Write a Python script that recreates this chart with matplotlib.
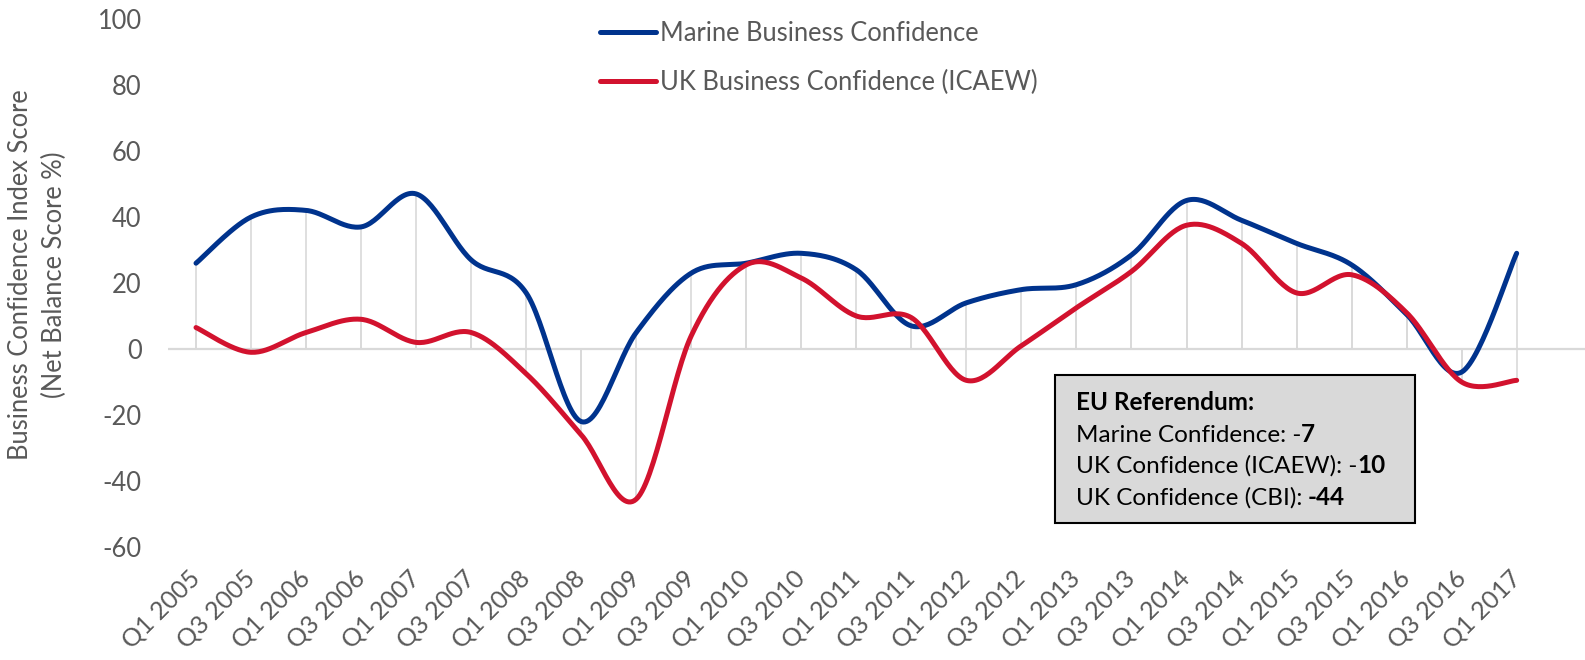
import numpy as np
import matplotlib
matplotlib.use("Agg")
import matplotlib.pyplot as plt
from matplotlib.patches import Rectangle

plt.rcParams['font.family'] = ['Lato', 'DejaVu Sans']

# data
quarters = ['Q1 2005', 'Q3 2005', 'Q1 2006', 'Q3 2006', 'Q1 2007', 'Q3 2007',
            'Q1 2008', 'Q3 2008', 'Q1 2009', 'Q3 2009', 'Q1 2010', 'Q3 2010',
            'Q1 2011', 'Q3 2011', 'Q1 2012', 'Q3 2012', 'Q1 2013', 'Q3 2013',
            'Q1 2014', 'Q3 2014', 'Q1 2015', 'Q3 2015', 'Q1 2016', 'Q3 2016',
            'Q1 2017']
marine = [26, 40, 42, 37, 47, 27, 17, -22, 5, 23, 26, 29, 24, 7, 14, 18,
          19.5, 28.5, 45, 39, 32, 25.5, 10.5, -7, 29]
icaew = [6.5, -1, 5, 9, 2, 5, -7.5, -26, -45.5, 4, 25.5, 21.5, 10, 9.5,
         -9.5, 1, 12.5, 23.5, 37.5, 32, 17, 22.5, 11, -10, -9.5]
yticks = list(range(-60, 101, 20))

W, H = 1585, 660
GREY = '#595959'
BLUE = '#00338D'
RED = '#D2122E'
FS = 18.4


def fx(x):
    return x / W


def fy(y):
    return 1 - y / H


def smooth(xs, ys, n=30):
    # Catmull-Rom style bezier, roughly what Excel's "smoothed line" does
    p = np.column_stack([xs, ys]).astype(float)
    out = []
    for i in range(len(p) - 1):
        p0 = p[i - 1] if i > 0 else p[i]
        p1, p2 = p[i], p[i + 1]
        p3 = p[i + 2] if i + 2 < len(p) else p[i + 1]
        b1 = p1 + (p2 - p0) / 6
        b2 = p2 - (p3 - p1) / 6
        t = np.linspace(0, 1, n)[:, None]
        seg = ((1 - t) ** 3) * p1 + 3 * ((1 - t) ** 2) * t * b1 + 3 * (1 - t) * t ** 2 * b2 + t ** 3 * p2
        out.append(seg if i == 0 else seg[1:])
    out = np.vstack(out)
    return out[:, 0], out[:, 1]


fig = plt.figure(figsize=(W / 100, H / 100), dpi=100)
ax = fig.add_axes([fx(168), fy(547), fx(W - 168), fy(19) - fy(547)])

x = np.arange(len(quarters))
ax.vlines(x, 0, marine, color='#D9D9D9', lw=1.2, zorder=1)
ax.vlines(x, 0, icaew, color='#D9D9D9', lw=1.2, zorder=1)
ax.axhline(0, color='#D9D9D9', lw=1.6, zorder=1)

sx, sy = smooth(x, marine)
ax.plot(sx, sy, color=BLUE, lw=3.6, solid_capstyle='round', label='Marine Business Confidence', zorder=3)
sx, sy = smooth(x, icaew)
ax.plot(sx, sy, color=RED, lw=3.6, solid_capstyle='round', label='UK Business Confidence (ICAEW)', zorder=3)

ax.set_ylim(-60, 100)
ax.set_xlim(-28 / 55, 24 + (W - 1516.7) / 55)
ax.set_yticks(yticks)
ax.set_yticklabels([str(v) for v in yticks])
ax.set_xticks(x)
ax.set_xticklabels(quarters, rotation=45, ha='right', va='center', rotation_mode='anchor')
ax.tick_params(axis='y', length=0, pad=19, labelsize=FS, labelcolor=GREY)
ax.tick_params(axis='x', length=0, pad=20, labelsize=18, labelcolor=GREY)
for s in ax.spines.values():
    s.set_visible(False)

ax.set_ylabel('Business Confidence Index Score\n(Net Balance Score %)', fontsize=FS, color=GREY,
              linespacing=1.45)
ax.yaxis.set_label_coords((67 - 168) / (W - 168), (547 - 275) / (547 - 19))

ax.legend(loc='upper left', bbox_to_anchor=(fx(600), fy(21)), bbox_transform=fig.transFigure,
          frameon=False, fontsize=FS, labelcolor=GREY, handlelength=2.2, handletextpad=0.15,
          labelspacing=0.92, borderpad=0, borderaxespad=0)

# EU referendum box
fig.patches.append(Rectangle((fx(1055), fy(523)), fx(1415 - 1055), fy(375) - fy(523),
                             transform=fig.transFigure, facecolor='#D9D9D9', edgecolor='black',
                             lw=1.5, zorder=5))
tx = fx(1076)
BFS = 17.5
fig.text(tx, fy(410), 'EU Referendum:', fontsize=BFS, fontweight='bold', va='baseline', zorder=6)
rows = [('Marine Confidence: -', '7', 442, 0),
        ('UK Confidence (ICAEW): -', '10', 473, 0),
        ('UK Confidence (CBI):', '-44', 505, 5.5)]
plain_texts = []
for plain, bold, yy, gap in rows:
    t = fig.text(tx, fy(yy), plain, fontsize=BFS, va='baseline', zorder=6)
    plain_texts.append(t)

fig.canvas.draw()
renderer = fig.canvas.get_renderer()
for t, (plain, bold, yy, gap) in zip(plain_texts, rows):
    bb = t.get_window_extent(renderer)
    fig.text((bb.x1 + gap) / W, fy(yy), bold, fontsize=BFS, fontweight='bold',
             va='baseline', zorder=6)

fig.savefig('out.png', dpi=100)
